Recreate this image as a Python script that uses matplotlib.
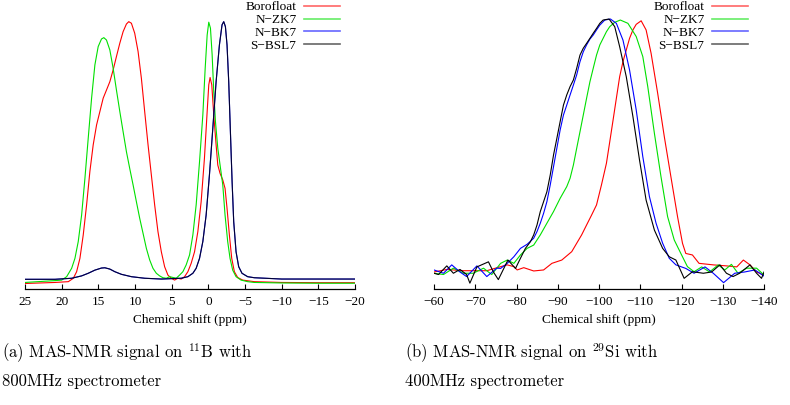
import numpy as np
import matplotlib
matplotlib.use("Agg")
import matplotlib.pyplot as plt

plt.rcParams['font.family'] = ['Liberation Serif', 'DejaVu Serif']
plt.rcParams['mathtext.fontset'] = 'cm'

# --- (a) 11B MAS-NMR, chemical shift (ppm) vs normalised intensity ---
boro_b_ppm = [25, 20.91, 19.09, 18.41, 17.96, 17.51, 17.06, 16.60, 16.15, 15.70, 15.24, 14.79,
              14.34, 13.89, 13.43, 12.98, 12.53, 12.07, 11.62, 11.17, 10.85, 10.49, 10.04, 9.58,
              9.13, 8.68, 8.22, 7.77, 7.32, 6.87, 6.41, 5.96, 5.51, 5.05, 4.60, 4.15, 3.70, 3.24,
              2.79, 2.34, 1.88, 1.43, 0.98, 0.53, 0.16, -0.06, -0.24, -0.47, -0.74, -1.06,
              -1.29, -1.60, -1.97, -2.28, -2.55, -2.87, -3.19, -3.55, -4.00, -4.68, -6.27, -10,
              -15, -20]
boro_b_int = [0.002, 0.006, 0.009, 0.022, 0.047, 0.098, 0.187, 0.302, 0.430, 0.531, 0.607,
              0.658, 0.709, 0.740, 0.772, 0.817, 0.868, 0.919, 0.963, 0.992, 1.001, 0.995, 0.957,
              0.887, 0.785, 0.658, 0.531, 0.416, 0.302, 0.200, 0.123, 0.066, 0.034, 0.022,
              0.015, 0.022, 0.019, 0.028, 0.047, 0.079, 0.123, 0.200, 0.314, 0.480, 0.658,
              0.760, 0.788, 0.760, 0.645, 0.531, 0.454, 0.422, 0.397, 0.365, 0.289, 0.187,
              0.098, 0.047, 0.025, 0.015, 0.009, 0.006, 0.005, 0.005]

zk7_b_ppm = [25, 20.91, 20.0, 19.32, 18.64, 18.19, 17.74, 17.28, 16.83, 16.38, 15.92, 15.47,
             15.02, 14.57, 14.25, 13.89, 13.43, 12.98, 12.53, 12.07, 11.62, 11.17, 10.72, 10.26,
             9.81, 9.36, 8.90, 8.45, 8.00, 7.55, 7.09, 6.64, 6.19, 5.73, 5.28, 4.83, 4.38, 3.92,
             3.47, 3.02, 2.56, 2.11, 1.66, 1.20, 0.75, 0.43, 0.16, -0.06, -0.29, -0.52, -0.74,
             -0.97, -1.29, -1.60, -1.97, -2.28, -2.64, -2.96, -3.32, -3.78, -4.46, -5.36, -6.27,
             -10, -15, -20]
zk7_b_int = [0.006, 0.013, 0.015, 0.028, 0.060, 0.098, 0.162, 0.263, 0.403, 0.556, 0.709,
             0.836, 0.906, 0.935, 0.940, 0.931, 0.893, 0.823, 0.740, 0.658, 0.581, 0.505, 0.441,
             0.378, 0.314, 0.251, 0.193, 0.136, 0.092, 0.060, 0.041, 0.031, 0.024, 0.022, 0.028,
             0.025, 0.022, 0.034, 0.047, 0.073, 0.111, 0.187, 0.302, 0.467, 0.645, 0.823, 0.950,
             0.999, 0.976, 0.874, 0.734, 0.620, 0.518, 0.454, 0.378, 0.263, 0.162, 0.098, 0.053,
             0.028, 0.015, 0.009, 0.006, 0.004, 0.003, 0.003]

bk7_b_ppm = [25, 20.91, 18.64, 17.28, 16.38, 15.47, 14.57, 14.11, 13.43, 12.75, 11.85, 10.49,
             8.68, 6.41, 3.70, 2.79, 2.11, 1.66, 1.20, 0.75, 0.30, -0.15, -0.61, -1.06, -1.51,
             -1.87, -2.10, -2.33, -2.55, -2.78, -3.01, -3.24, -3.46, -3.78, -4.14, -4.59, -5.36,
             -6.27, -10, -20]
bk7_b_int = [0.018, 0.018, 0.022, 0.031, 0.041, 0.053, 0.061, 0.062, 0.057, 0.047, 0.037, 0.028,
             0.022, 0.019, 0.022, 0.028, 0.041, 0.060, 0.098, 0.162, 0.263, 0.416, 0.594, 0.772,
             0.912, 0.989, 1.001, 0.982, 0.912, 0.772, 0.581, 0.391, 0.238, 0.123, 0.066, 0.041,
             0.028, 0.024, 0.019, 0.019]
# N-BK7 and S-BSL7 give the same boron spectrum
bsl7_b_ppm = bk7_b_ppm
bsl7_b_int = bk7_b_int

# --- (b) 29Si MAS-NMR ---
boro_si_ppm = [-60, -63.1, -67.1, -72.8, -76.15, -77.76, -79.36, -80.16, -81.76, -84.17, -86.57,
               -88.58, -90.98, -93.39, -95.79, -96.99, -98.20, -99.40, -100.60, -101.80, -102.61,
               -103.41, -104.21, -105.01, -105.81, -106.61, -107.41, -108.22, -109.02, -110.22,
               -111.42, -112.63, -114.23, -115.83, -117.43, -119.04, -120.24, -121.04, -122.65,
               -124.25, -127.7, -130.9, -133.4, -135.0, -136.6, -138.2, -140]
boro_si_int = [0.0, 0.01, 0.005, 0.005, 0.021, 0.028, 0.021, 0.008, 0.017, 0.004, 0.008, 0.034,
               0.047, 0.080, 0.146, 0.185, 0.224, 0.264, 0.343, 0.428, 0.513, 0.598, 0.684,
               0.769, 0.828, 0.874, 0.920, 0.953, 0.975, 0.989, 0.953, 0.861, 0.703, 0.533,
               0.375, 0.218, 0.113, 0.073, 0.067, 0.034, 0.028, 0.024, 0.02, 0.047, 0.028, 0.0,
               -0.012]

zk7_si_ppm = [-60, -62.3, -64.7, -67.1, -69.5, -72.0, -74.0, -76.15, -77.76, -79.36, -80.96,
              -82.57, -84.17, -85.77, -87.37, -88.98, -90.58, -92.18, -92.99, -93.79, -94.59,
              -95.39, -96.19, -96.99, -97.80, -98.60, -99.40, -100.20, -101.00, -101.80, -102.61,
              -103.81, -105.17, -107.01, -109.02, -110.62, -111.82, -113.43, -115.03, -116.63,
              -118.24, -119.84, -121.44, -123.05, -124.9, -126.8, -128.9, -130.5, -132.1,
              -133.7, -135.8, -138.2, -140]
zk7_si_int = [-0.005, -0.01, 0.015, -0.005, -0.005, 0.015, -0.01, 0.034, 0.047, 0.034, 0.067,
              0.093, 0.106, 0.146, 0.192, 0.238, 0.290, 0.336, 0.369, 0.421, 0.487, 0.552, 0.618,
              0.684, 0.749, 0.802, 0.854, 0.894, 0.920, 0.946, 0.966, 0.983, 0.992, 0.979,
              0.927, 0.848, 0.730, 0.546, 0.375, 0.218, 0.126, 0.073, 0.021, 0.001, 0.02, 0.0,
              0.028, 0.008, 0.03, -0.005, 0.015, 0.015, -0.012]

bk7_si_ppm = [-60, -62.3, -64.3, -66.3, -67.9, -70.4, -72.8, -75.2, -76.15, -77.76, -79.36,
              -80.96, -82.57, -84.17, -84.97, -85.77, -86.57, -87.37, -88.18, -88.98, -89.78,
              -90.58, -91.38, -92.18, -92.99, -93.79, -94.59, -95.39, -96.19, -96.99, -97.80,
              -98.60, -99.40, -100.20, -101.40, -102.77, -104.21, -105.81, -107.41, -109.02,
              -110.62, -112.22, -113.83, -115.43, -117.03, -118.64, -121.04, -123.05, -125.7,
              -127.7, -130.2, -132.9, -135.3, -137.8, -140]
bk7_si_int = [0.008, -0.005, 0.028, 0.0, -0.018, 0.024, -0.018, 0.015, 0.014, 0.034, 0.060,
              0.093, 0.109, 0.133, 0.159, 0.192, 0.231, 0.277, 0.343, 0.415, 0.487, 0.559, 0.618,
              0.657, 0.697, 0.736, 0.776, 0.828, 0.867, 0.894, 0.917, 0.933, 0.953, 0.972,
              0.992, 0.996, 0.979, 0.913, 0.795, 0.638, 0.454, 0.297, 0.192, 0.113, 0.054,
              0.028, 0.014, -0.005, 0.02, -0.005, -0.042, -0.005, 0.0, 0.008, -0.016]

bsl7_si_ppm = [-60, -61.1, -63.1, -64.7, -66.3, -67.9, -68.7, -70.4, -73.2, -74.4, -75.6,
               -77.92, -79.76, -80.96, -82.16, -83.37, -84.17, -84.97, -85.77, -86.57, -87.37,
               -88.18, -88.98, -89.78, -90.58, -91.38, -92.18, -92.99, -93.79, -94.59, -95.39,
               -96.19, -96.99, -97.80, -98.60, -99.40, -100.20, -101.00, -102.44, -103.81,
               -105.01, -106.61, -108.22, -109.82, -111.42, -113.43, -115.43, -117.03, -118.64,
               -120.64, -122.65, -125.3, -127.3, -129.3, -130.9, -132.5, -134.1, -136.6, -138.2,
               -139.4, -140]
bsl7_si_int = [-0.005, -0.01, 0.024, -0.005, 0.01, -0.01, -0.044, 0.02, 0.04, 0.0, -0.03, 0.047,
               0.014, 0.054, 0.093, 0.119, 0.146, 0.185, 0.238, 0.277, 0.316, 0.382, 0.461,
               0.526, 0.592, 0.657, 0.697, 0.730, 0.756, 0.802, 0.854, 0.881, 0.900, 0.920,
               0.940, 0.959, 0.979, 0.992, 0.996, 0.966, 0.887, 0.769, 0.612, 0.441, 0.283,
               0.165, 0.093, 0.060, 0.047, -0.025, 0.001, -0.005, 0.0, 0.028, -0.005, -0.018,
               -0.005, 0.028, -0.005, -0.025, 0.0]

labels = ['Borofloat', 'N\u2212ZK7', 'N\u2212BK7', 'S\u2212BSL7']
colors = ['#ff0000', '#00e000', '#0000ff', '#000000']

fig = plt.figure(figsize=(7.9, 4.05), dpi=100)
W, H = 790.0, 405.0
ax1 = fig.add_axes([25 / W, (405 - 289) / H, 330 / W, 271 / H])
ax2 = fig.add_axes([434 / W, (405 - 289) / H, 330 / W, 271 / H])

panels = [
    (ax1, [(boro_b_ppm, boro_b_int), (zk7_b_ppm, zk7_b_int), (bk7_b_ppm, bk7_b_int),
           (bsl7_b_ppm, bsl7_b_int)], (25, -20), (-0.019, 1.015), np.arange(25, -21, -5)),
    (ax2, [(boro_si_ppm, boro_si_int), (zk7_si_ppm, zk7_si_int), (bk7_si_ppm, bk7_si_int),
           (bsl7_si_ppm, bsl7_si_int)], (-60, -140), (-0.067, 1.0), np.arange(-60, -141, -10)),
]

for ax, series, xl, yl, ticks in panels:
    for (x, y), lab, c in zip(series, labels, colors):
        # on the boron panel black sits on top of blue, giving a navy line
        alpha = 0.8 if (ax is ax1 and c == '#000000') else 1.0
        ax.plot(x, y, color=c, lw=0.8, label=lab, alpha=alpha, solid_joinstyle='round')
    ax.set_xlim(*xl)
    ax.set_ylim(*yl)
    ax.set_xticks(ticks)
    ax.set_yticks([])
    for s in ['left', 'top', 'right']:
        ax.spines[s].set_visible(False)
    ax.spines['bottom'].set_linewidth(0.9)
    ax.tick_params(axis='x', direction='in', length=3.5, width=0.8, pad=5, labelsize=9.5)
    ax.set_xlabel('Chemical shift (ppm)', fontsize=9.5, labelpad=4)
    ax.patch.set_visible(False)

leg_kw = dict(frameon=False, markerfirst=False, fontsize=9.5, handlelength=2.7,
              handletextpad=0.6, labelspacing=0.05, borderpad=0, borderaxespad=0)
for ax, right in [(ax1, 340), (ax2, 748)]:
    leg = ax.legend(loc='upper right', bbox_to_anchor=(right / W, 1 - 1 / H),
                    bbox_transform=fig.transFigure, **leg_kw)
    for h in leg.get_lines():
        h.set_alpha(0.6)
        h.set_linewidth(1.2)

cap_kw = dict(fontsize=12, family='cmr10', va='baseline', ha='left')
fig.text(2 / W, 1 - 358 / H, r'(a) MAS-NMR signal on $^{11}\mathrm{B}$ with', **cap_kw)
fig.text(2 / W, 1 - 386 / H, '800MHz spectrometer', **cap_kw)
fig.text(405 / W, 1 - 358 / H, r'(b) MAS-NMR signal on $^{29}\mathrm{Si}$ with', **cap_kw)
fig.text(405 / W, 1 - 386 / H, '400MHz spectrometer', **cap_kw)

fig.savefig('out.png', dpi=100)
